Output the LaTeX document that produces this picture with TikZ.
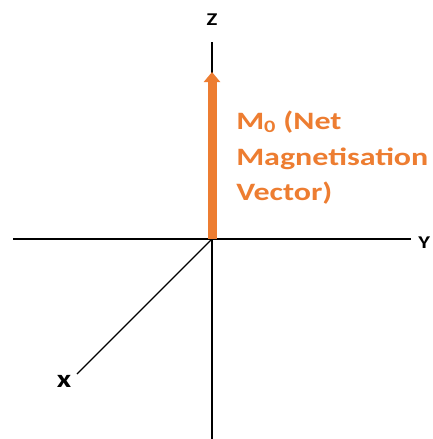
\documentclass[tikz,border=0pt]{standalone}
\usepackage{fontspec}
\setmainfont{Carlito}
\usetikzlibrary{arrows.meta}
\definecolor{vecOrange}{HTML}{ED7D31}

\begin{document}
\begin{tikzpicture}[x=1pt,y=-1pt,
    axis/.style={black,line width=1.4pt},
    axlabel/.style={font=\bfseries\fontsize{18}{18}\selectfont,inner sep=0pt,xscale=1.25,transform shape},
    veclabel/.style={font=\bfseries\fontsize{25}{25}\selectfont,text=vecOrange,inner sep=0pt,anchor=base west,xscale=1.28,transform shape}]
    \useasboundingbox (0,0) rectangle (432,439);
    % axes
    \coordinate (origin) at (212,239);
    \coordinate (zTop) at (212,42);
    \coordinate (zBottom) at (212,439);
    \coordinate (yLeft) at (13,239);
    \coordinate (yRight) at (411,239);
    \coordinate (xEnd) at (77,374);
    \coordinate (vecTip) at (212,72);
    \draw[axis] (yLeft) -- (yRight);
    \draw[axis] (zTop) -- (zBottom);
    \draw[axis] (origin) -- (xEnd);
    % net magnetisation vector
    \draw[vecOrange,line width=9pt,-{Triangle[width=16pt,length=10pt]}] (origin) -- (vecTip);
    % labels
    \node[axlabel,anchor=base] (zLabel) at (212,25) {Z};
    \node[axlabel,anchor=base west] (yLabel) at (418,248) {Y};
    \node[axlabel,anchor=base,font=\bfseries\fontsize{25}{25}\selectfont] (xLabel) at (64,387) {x};
    \node[veclabel] (vecLine1) at (236,129) {M\textsubscript{0} (Net};
    \node[veclabel] (vecLine2) at (236,165) {Magnetisation};
    \node[veclabel] (vecLine3) at (236,200) {Vector)};
\end{tikzpicture}
\end{document}
